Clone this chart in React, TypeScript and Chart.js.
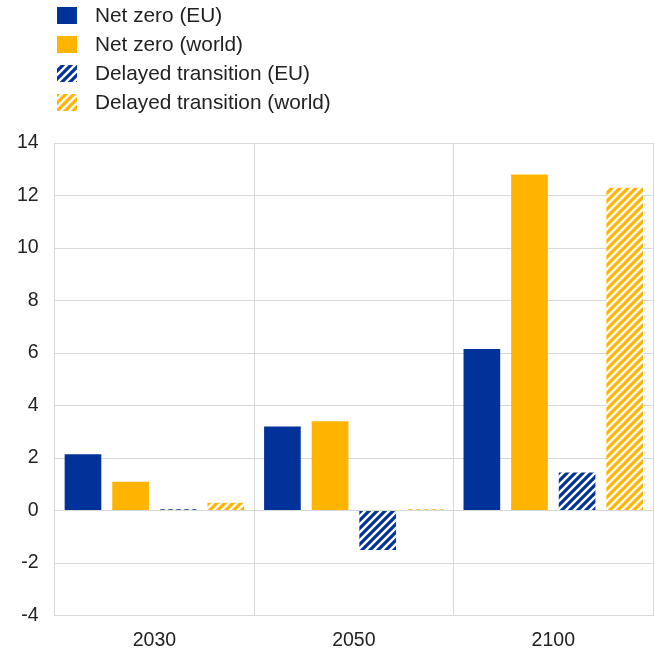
import React, { useEffect, useRef } from "react";
import { Chart, registerables } from "chart.js";

Chart.register(...registerables);

const categories = ["2030", "2050", "2100"];
const netZeroEU = [2.15, 3.2, 6.15];
const netZeroWorld = [1.1, 3.4, 12.8];
const delayedEU = [0.05, -1.5, 1.45];
const delayedWorld = [0.3, 0.05, 12.3];
const seriesLabels = [
  "Net zero (EU)",
  "Net zero (world)",
  "Delayed transition (EU)",
  "Delayed transition (world)",
];

const BLUE = "#003299";
const YELLOW = "#FFB400";
const FONT = "'Liberation Sans', Arial, sans-serif";
const TEXT = "#222222";

function makePattern(color: string): CanvasPattern | string {
  const size = 8;
  const c = document.createElement("canvas");
  c.width = size;
  c.height = size;
  const ctx = c.getContext("2d");
  if (!ctx) return color;
  ctx.fillStyle = "#ffffff";
  ctx.fillRect(0, 0, size, size);
  ctx.strokeStyle = color;
  ctx.lineWidth = 3.2;
  ctx.lineCap = "square";
  ctx.beginPath();
  ctx.moveTo(-2, size + 2);
  ctx.lineTo(size + 2, -2);
  ctx.moveTo(-2, 2);
  ctx.lineTo(2, -2);
  ctx.moveTo(size - 2, size + 2);
  ctx.lineTo(size + 2, size - 2);
  ctx.stroke();
  const p = ctx.createPattern(c, "repeat");
  return p || color;
}

const legendPlugin = {
  id: "customLegend",
  afterDraw(chart: any) {
    const ctx = chart.ctx;
    ctx.save();
    const ys = [15, 44, 73, 102];
    chart.data.datasets.forEach((ds: any, i: number) => {
      const cy = ys[i];
      ctx.fillStyle = ds.backgroundColor;
      ctx.fillRect(57, cy - 8, 20, 17);
      ctx.fillStyle = TEXT;
      ctx.font = `20.8px ${FONT}`;
      ctx.textBaseline = "middle";
      ctx.textAlign = "left";
      ctx.fillText(ds.label, 95, cy + 1);
    });
    ctx.restore();
  },
};

export default function App() {
  const ref = useRef<HTMLCanvasElement | null>(null);
  useEffect(() => {
    if (!ref.current) return;
    const blueP = makePattern(BLUE);
    const yellowP = makePattern(YELLOW);
    const chart = new Chart(ref.current, {
      type: "bar",
      data: {
        labels: categories,
        datasets: [
          { label: seriesLabels[0], data: netZeroEU, backgroundColor: BLUE },
          { label: seriesLabels[1], data: netZeroWorld, backgroundColor: YELLOW },
          { label: seriesLabels[2], data: delayedEU, backgroundColor: blueP as any },
          { label: seriesLabels[3], data: delayedWorld, backgroundColor: yellowP as any },
        ],
      },
      options: {
        animation: false,
        responsive: false,
        maintainAspectRatio: false,
        layout: { padding: { top: 143, left: 1, right: 1, bottom: -12 } },
        datasets: {
          bar: { categoryPercentage: 0.955, barPercentage: 0.77 },
        },
        plugins: {
          legend: { display: false },
          tooltip: { enabled: false },
        },
        scales: {
          x: {
            grid: { color: "#d9d9d9", drawTicks: false, offset: true },
            border: { color: "#d9d9d9" },
            ticks: { color: TEXT, font: { family: FONT, size: 19.5 }, padding: 13 },
          },
          y: {
            min: -4,
            max: 14,
            grid: { color: "#d9d9d9", drawTicks: false },
            border: { color: "#d9d9d9" },
            ticks: {
              stepSize: 2,
              color: TEXT,
              font: { family: FONT, size: 19.5 },
              padding: 16,
            },
          },
        },
      },
      plugins: [legendPlugin],
    });
    return () => chart.destroy();
  }, []);
  return (
    <div style={{ position: "absolute", left: 0, top: 0, width: 654, height: 653 }}>
      <canvas ref={ref} width={654} height={653} style={{ display: "block" }} />
    </div>
  );
}
